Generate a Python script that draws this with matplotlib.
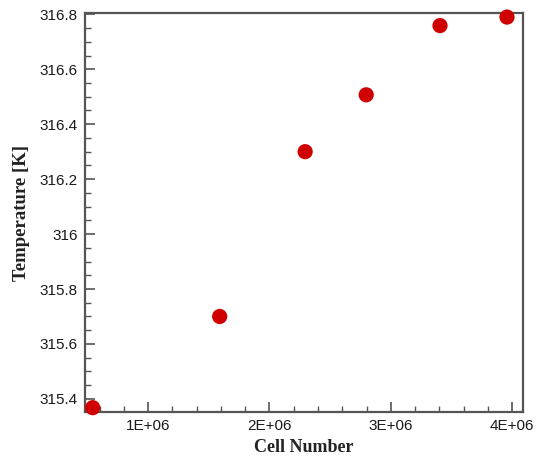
import matplotlib
matplotlib.use("Agg")
import matplotlib.pyplot as plt
from matplotlib.ticker import MultipleLocator

# data
cells = [0.544e6, 1.59e6, 2.294e6, 2.797e6, 3.405e6, 3.957e6]
temp = [315.368, 315.700, 316.300, 316.507, 316.759, 316.790]

x_ticks = [1e6, 2e6, 3e6, 4e6]
x_labels = ["1E+06", "2E+06", "3E+06", "4E+06"]
y_ticks = [315.4, 315.6, 315.8, 316.0, 316.2, 316.4, 316.6, 316.8]
y_labels = ["315.4", "315.6", "315.8", "316", "316.2", "316.4", "316.6", "316.8"]

fig = plt.figure(figsize=(5.41, 4.63), dpi=100)
ax = fig.add_axes([0.157, 0.110, 0.810, 0.862])

ax.scatter(cells, temp, s=120, color="#d00000", edgecolors="none", zorder=3, clip_on=False)

ax.set_xlim(0.48e6, 4.09e6)
ax.set_ylim(315.352, 316.805)

ax.set_xticks(x_ticks)
ax.set_xticklabels(x_labels)
ax.set_yticks(y_ticks)
ax.set_yticklabels(y_labels)
ax.xaxis.set_minor_locator(MultipleLocator(0.2e6))
ax.yaxis.set_minor_locator(MultipleLocator(0.05))

for lab in ax.get_xticklabels() + ax.get_yticklabels():
    lab.set_fontfamily("Liberation Sans")
    lab.set_fontsize(11)
    lab.set_color("#1a1a1a")

ax.tick_params(which="major", direction="in", length=7.5, width=1.2, color="#555555")
ax.tick_params(which="minor", direction="in", length=4, width=1.0, color="#555555")
ax.tick_params(axis="x", pad=5)
ax.tick_params(axis="y", pad=5)

for sp in ax.spines.values():
    sp.set_color("#555555")
    sp.set_linewidth(1.6)

ax.set_xlabel("Cell Number", fontfamily="Liberation Serif", fontweight="bold",
              fontsize=13, color="#222222", labelpad=4)
ax.set_ylabel("Temperature [K]", fontfamily="Liberation Serif", fontweight="bold",
              fontsize=13.5, color="#222222", labelpad=7)

fig.savefig("out.png", dpi=100)
